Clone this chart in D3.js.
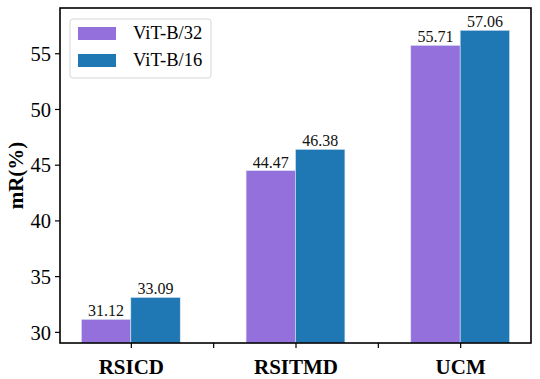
<!DOCTYPE html>
<html>
	<head>
		<meta charset="utf-8">
		<title>mR by backbone</title>
		<style>
			html, body { margin: 0; background: #fff; }
		</style>
	</head>
	<body>
		<svg id="chart" width="540" height="379"></svg>
		<script src="https://d3js.org/d3.v7.min.js"></script>
		<script>
			// data
			const datasets = ["RSICD", "RSITMD", "UCM"];
			const models = ["ViT-B/32", "ViT-B/16"];
			const vitB32 = [31.12, 44.47, 55.71];
			const vitB16 = [33.09, 46.38, 57.06];
			const yTicks = [30, 35, 40, 45, 50, 55];
			const colors = ["#9370db", "#1f77b4"];

			const serif = "'Liberation Serif', 'Times New Roman', serif";
			const margin = {top: 8, right: 9, bottom: 36, left: 60};
			const width = 540, height = 379;

			let svg = d3.select("#chart").attr("font-family", serif);

			// categories sit at 0, 2, 4 ; bars are 0.6 wide either side of centre
			const barW = 0.6;
			const xs = datasets.map((d, i) => i * 2);
			let x = d3.scaleLinear()
				.domain([-0.6 - 0.26, 4.6 + 0.26])
				.range([margin.left, width - margin.right]);
			let y = d3.scaleLinear()
				.domain([29, 59.06])
				.range([height - margin.bottom, margin.top]);

			let series = [vitB32, vitB16];
			let bars = svg.append("g");
			series.forEach((vals, s) =>
			{
				bars.selectAll(".b" + s)
					.data(vals)
					.enter().append("rect")
					.attr("x", (d, i) => x(xs[i] + (s - 1) * barW))
					.attr("width", x(barW) - x(0))
					.attr("y", d => y(d))
					.attr("height", d => y(29) - y(d))
					.attr("fill", colors[s])
					.attr("stroke", "#d8e6f3")
					.attr("stroke-width", 0.6);

				bars.selectAll(".t" + s)
					.data(vals)
					.enter().append("text")
					.attr("x", (d, i) => x(xs[i] + (s - 0.5) * barW))
					.attr("y", d => y(d) - 3)
					.attr("text-anchor", "middle")
					.attr("font-family", serif)
					.attr("font-size", 16)
					.attr("fill", "#111")
					.text(d => d.toFixed(2));
			});

			// axes
			let yAxis = svg.append("g")
				.attr("transform", `translate(${margin.left},0)`)
				.call(d3.axisLeft(y).tickValues(yTicks).tickSize(5).tickPadding(4));
			yAxis.attr("font-family", serif);
			yAxis.selectAll("text").attr("font-size", 20.5).attr("fill", "#000").attr("dy", "0.35em");
			yAxis.select(".domain").remove();

			let xAxis = svg.append("g")
				.attr("transform", `translate(0,${height - margin.bottom})`)
				.call(d3.axisBottom(x).tickValues([0, 1, 2, 3, 4]).tickSize(5).tickPadding(6)
					.tickFormat(d => d % 2 === 0 ? datasets[d / 2] : ""));
			xAxis.attr("font-family", serif);
			xAxis.selectAll("text").attr("font-size", 21).attr("font-weight", "bold").attr("fill", "#000").attr("dy", "0.95em");
			xAxis.select(".domain").remove();
			svg.selectAll(".tick line").attr("stroke", "#000").attr("stroke-width", 1.2);

			// frame
			svg.append("rect")
				.attr("x", margin.left)
				.attr("y", margin.top)
				.attr("width", width - margin.left - margin.right)
				.attr("height", height - margin.top - margin.bottom)
				.attr("fill", "none")
				.attr("stroke", "#000")
				.attr("stroke-width", 1.6);

			svg.append("text")
				.attr("transform", `translate(23,${(margin.top + height - margin.bottom) / 2}) rotate(-90)`)
				.attr("text-anchor", "middle")
				.attr("font-size", 21)
				.attr("font-weight", "bold")
				.text("mR(%)");

			// legend
			let legend = svg.append("g").attr("transform", "translate(70,19)");
			legend.append("rect")
				.attr("width", 141).attr("height", 59).attr("rx", 3)
				.attr("fill", "#fff").attr("stroke", "#d6d6d6").attr("stroke-width", 1);
			models.forEach((m, i) =>
			{
				legend.append("rect")
					.attr("x", 8).attr("y", 8 + i * 27)
					.attr("width", 38).attr("height", 13)
					.attr("fill", colors[i]);
				legend.append("text")
					.attr("x", 63).attr("y", 20 + i * 27)
					.attr("font-size", 18.5)
					.text(m);
			});
		</script>
	</body>
</html>
